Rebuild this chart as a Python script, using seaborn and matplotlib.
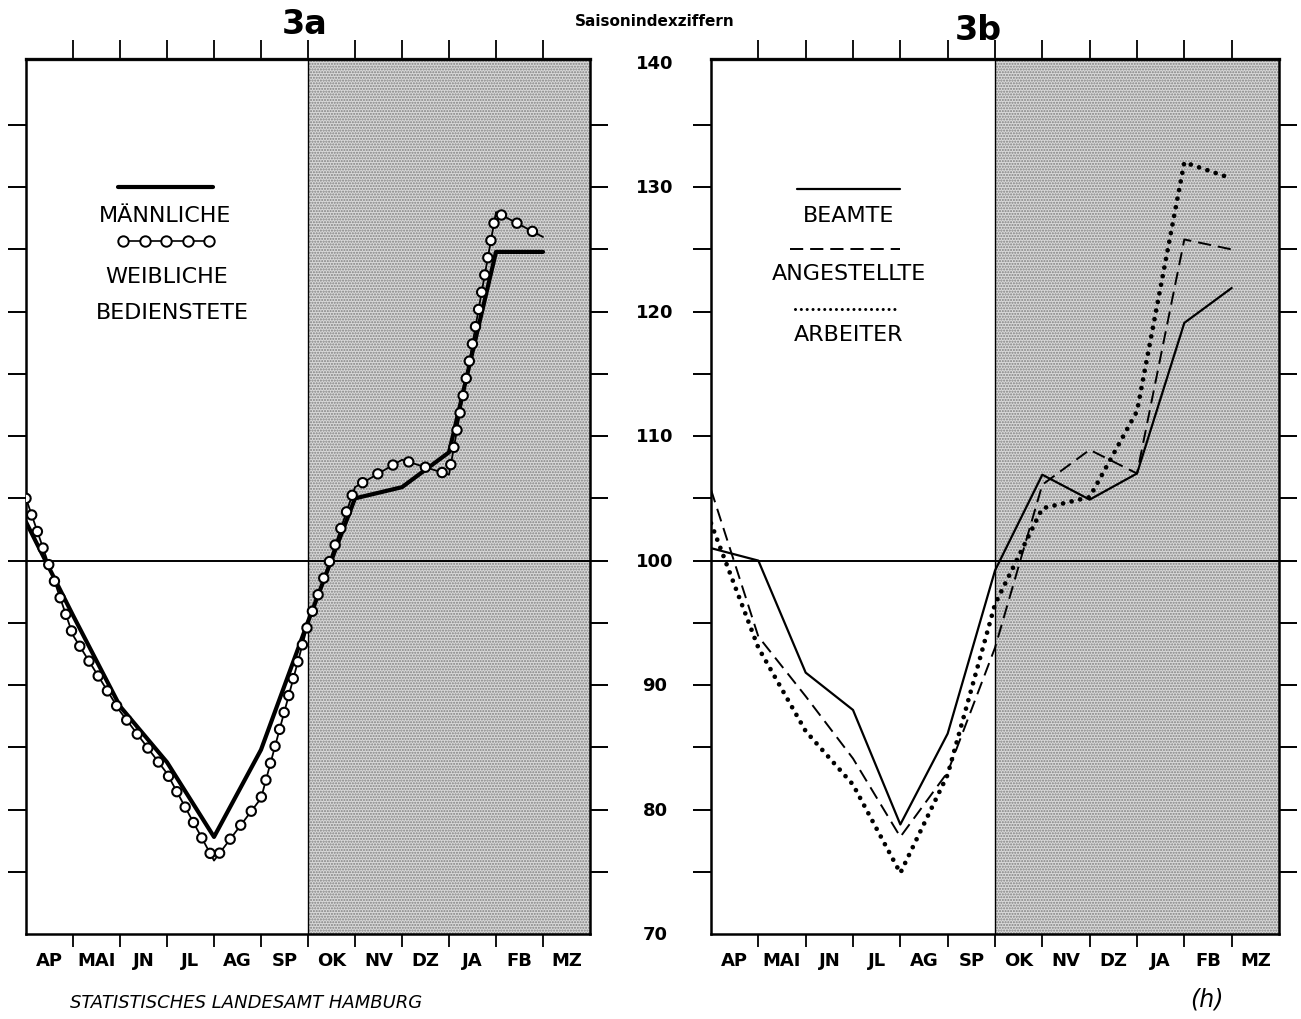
import numpy as np
import pandas as pd
import matplotlib
matplotlib.use("Agg")
import matplotlib.pyplot as plt
import matplotlib.transforms as mtransforms
from matplotlib import font_manager
import seaborn as sns

# Months (April .. March), one band per month
months = ["AP", "MAI", "JN", "JL", "AG", "SP", "OK", "NV", "DZ", "JA", "FB", "MZ"]
month_pos = [0, 1, 2, 3, 4, 5, 6, 7, 8, 9, 10, 11]

# 3a - seasonal index, male / female servants
maennliche = [103.1, 95.6, 88.3, 83.8, 77.8, 84.8, 95.1, 105.0, 105.9, 108.7, 124.8, 124.8]
weibliche = [105.0, 94.0, 87.9, 82.9, 75.9, 80.9, 94.9, 105.9, 108.1, 106.9, 128.0, 126.0]

# 3b - seasonal index by group
beamte = [101.0, 100.0, 91.0, 88.0, 78.8, 86.1, 99.2, 106.9, 104.9, 107.0, 119.1, 121.9]
angestellte = [105.7, 93.9, 89.1, 84.1, 77.8, 83.0, 93.0, 106.1, 108.9, 107.0, 125.8, 125.0]
arbeiter = [103.0, 93.0, 86.3, 82.0, 74.9, 82.8, 96.5, 104.2, 105.1, 112.0, 132.0, 130.7]

y_labels = [70, 80, 90, 100, 110, 120, 130, 140]

df_a = pd.DataFrame({"monat": month_pos, "m": maennliche, "w": weibliche})
df_b = pd.DataFrame({"monat": month_pos, "beamte": beamte,
                     "angestellte": angestellte, "arbeiter": arbeiter})

sns.set_style("white")
plt.rcParams["lines.scale_dashes"] = False
plt.rcParams["font.family"] = ["DejaVu Sans"]
plt.rcParams["text.color"] = "black"
plt.rcParams["xtick.color"] = "black"
plt.rcParams["ytick.color"] = "black"
plt.rcParams["xtick.labelcolor"] = "black"

names = {f.name for f in font_manager.fontManager.ttflist}
if "Liberation Sans Narrow" in names:
    cond, lab_size = "Liberation Sans Narrow", 17
else:
    cond, lab_size = "DejaVu Sans", 13

W, H = 1301, 1020
fig = plt.figure(figsize=(W / 100, H / 100), dpi=100)
ax1 = fig.add_axes([26 / W, 85 / H, 564 / W, 875 / H])
ax2 = fig.add_axes([711 / W, 85 / H, 568 / W, 875 / H])


def setup(ax):
    ax.set_xlim(0, 12)
    ax.set_ylim(70.0, 140.3)
    ax.axvspan(6, 12, facecolor="#d9d9d9", edgecolor="#808080", hatch="......", lw=0, zorder=0)
    ax.axvline(6, color="black", lw=1.0, zorder=1)
    ax.axhline(100, color="black", lw=1.4, zorder=2)
    for s in ax.spines.values():
        s.set_linewidth(1.8)
        s.set_color("black")
    ax.set_yticks(np.arange(75, 140, 5))
    ax.tick_params(axis="y", which="major", left=True, right=True, direction="out",
                   length=13, width=1.4, labelleft=False, color="black")
    ax.set_xticks(range(1, 12))
    ax.set_xticklabels([])
    ax.tick_params(axis="x", which="major", bottom=True, top=False, direction="out",
                   length=9, width=1.3, color="black")
    ax.set_xticks([m + 0.5 for m in month_pos], months, minor=True)
    ax.tick_params(axis="x", which="minor", bottom=True, length=0, pad=12, labelcolor="black")
    for t in ax.get_xticklabels(minor=True):
        t.set_fontfamily(cond)
        t.set_fontweight("bold")
        t.set_fontsize(lab_size)
    ax.set_xlabel("")
    ax.set_ylabel("")
    top = ax.secondary_xaxis("top")
    top.set_xticks(range(1, 12))
    top.set_xticklabels([])
    top.tick_params(direction="out", length=13.5, width=1.3, color="black")
    top.spines["top"].set_linewidth(2.4)


setup(ax1)
setup(ax2)

# ---- 3a ----
sns.lineplot(data=df_a, x="monat", y="m", ax=ax1, color="black", lw=3.0,
             errorbar=None, legend=False, zorder=4)
# circle chain: thin line + black round dots + white round dots on the same dash grid
sns.lineplot(data=df_a, x="monat", y="w", ax=ax1, color="black", lw=1.3,
             errorbar=None, legend=False, zorder=5)
sns.lineplot(data=df_a, x="monat", y="w", ax=ax1, color="black", lw=8.3,
             linestyle=(0, (0.01, 12.6)), dash_capstyle="round",
             errorbar=None, legend=False, zorder=6)
sns.lineplot(data=df_a, x="monat", y="w", ax=ax1, color="white", lw=5.3,
             linestyle=(0, (0.01, 12.6)), dash_capstyle="round",
             errorbar=None, legend=False, zorder=7)
ax1.set_xlabel("")
ax1.set_ylabel("")

# legend 3a
ax1.plot([0.163, 0.332], [0.854, 0.854], transform=ax1.transAxes, color="black", lw=3.0)
ax1.text(0.247, 0.822, "MÄNNLICHE", transform=ax1.transAxes, ha="center", va="center", fontsize=16)
ax1.plot(np.linspace(0.172, 0.325, 5), [0.792] * 5, transform=ax1.transAxes, color="black",
         lw=1.2, marker="o", ms=7.5, mfc="white", mec="black", mew=1.4)
ax1.text(0.250, 0.752, "WEIBLICHE", transform=ax1.transAxes, ha="center", va="center", fontsize=16)
ax1.text(0.259, 0.711, "BEDIENSTETE", transform=ax1.transAxes, ha="center", va="center", fontsize=16)

# ---- 3b ----
sns.lineplot(data=df_b, x="monat", y="beamte", ax=ax2, color="black", lw=1.6,
             errorbar=None, legend=False, zorder=4)
sns.lineplot(data=df_b, x="monat", y="angestellte", ax=ax2, color="black", lw=1.4,
             linestyle=(0, (9.5, 5.0)), errorbar=None, legend=False, zorder=4)
sns.lineplot(data=df_b, x="monat", y="arbeiter", ax=ax2, color="black", lw=3.4,
             linestyle=(0, (0.01, 6.3)), dash_capstyle="round",
             errorbar=None, legend=False, zorder=4)
ax2.set_xlabel("")
ax2.set_ylabel("")

# legend 3b
ax2.plot([0.151, 0.333], [0.851, 0.851], transform=ax2.transAxes, color="black", lw=1.6)
ax2.text(0.242, 0.822, "BEAMTE", transform=ax2.transAxes, ha="center", va="center", fontsize=16)
ax2.plot([0.139, 0.333], [0.783, 0.783], transform=ax2.transAxes, color="black", lw=1.4,
         linestyle=(0, (9.5, 5.0)))
ax2.text(0.242, 0.755, "ANGESTELLTE", transform=ax2.transAxes, ha="center", va="center", fontsize=16)
ax2.plot([0.148, 0.330], [0.714, 0.714], transform=ax2.transAxes, color="black", lw=2.2,
         linestyle=(0, (0.01, 4.2)), dash_capstyle="round")
ax2.text(0.242, 0.686, "ARBEITER", transform=ax2.transAxes, ha="center", va="center", fontsize=16)

# shared y scale labels between the panels
trans = mtransforms.blended_transform_factory(fig.transFigure, ax2.transData)
for v in y_labels:
    ax2.text(655 / W, v, str(v), transform=trans, ha="center", va="center",
             fontsize=lab_size, fontweight="bold", family=cond, clip_on=False)

fig.text(305 / W, 1 - 25 / H, "3a", ha="center", va="center", fontsize=24,
         fontweight="bold", family=cond)
fig.text(978 / W, 1 - 30 / H, "3b", ha="center", va="center", fontsize=24,
         fontweight="bold", family=cond)
fig.text(655 / W, 1 - 22 / H, "Saisonindexziffern", ha="center", va="center",
         fontsize=13 if cond != "DejaVu Sans" else 11, fontweight="bold", family=cond)
fig.text(70 / W, 1 - 1003 / H, "STATISTISCHES LANDESAMT HAMBURG", ha="left", va="center",
         fontsize=13, style="italic")
fig.text(1207 / W, 1 - 1000 / H, "(h)", ha="center", va="center", fontsize=17, style="italic")

fig.savefig("out.png", dpi=100, facecolor="white")
